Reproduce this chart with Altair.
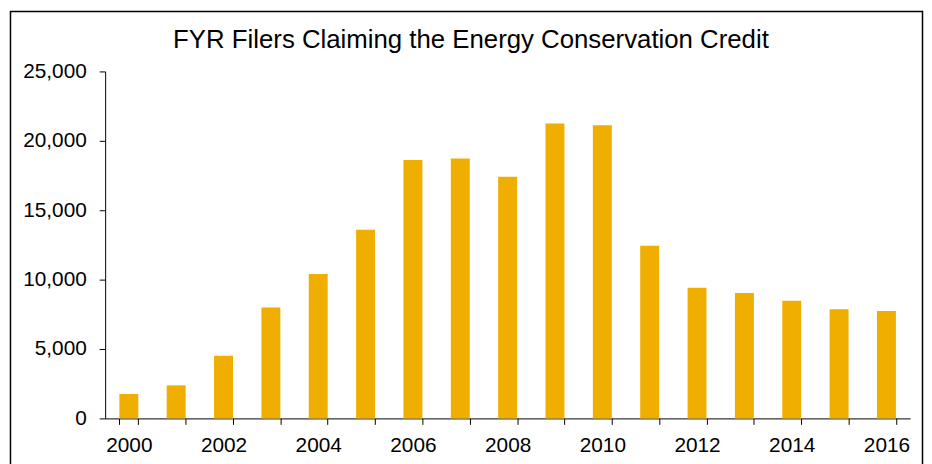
import altair as alt
import pandas as pd

years = list(range(2000, 2017))
filers = [1760, 2380, 4520, 8000, 10400, 13600, 18620, 18720, 17410,
          21240, 21120, 12440, 9420, 9040, 8470, 7870, 7730]
title_text = "FYR Filers Claiming the Energy Conservation Credit"
y_ticks = [0, 5000, 10000, 15000, 20000, 25000]

df = pd.DataFrame({"year": years, "filers": filers})
FONT = "Liberation Sans"

bars = alt.Chart(df).mark_bar(color="#F0AE00").encode(
    x=alt.X(
        "year:O",
        scale=alt.Scale(paddingInner=0.6, paddingOuter=0.3),
        axis=alt.Axis(
            title=None, labelAngle=0, tickBand="extent",
            labelExpr="datum.value % 2 == 0 ? datum.label : ''",
            labelOverlap=False, labelFont=FONT, labelFontSize=21,
            labelColor="black", tickColor="black", domainColor="black",
            tickSize=6, labelPadding=10, grid=False,
        ),
    ),
    y=alt.Y(
        "filers:Q",
        scale=alt.Scale(domain=[0, 25000], nice=False),
        axis=alt.Axis(
            title=None, values=y_ticks, format=",.0f", grid=False,
            labelFont=FONT, labelFontSize=21, labelColor="black",
            tickColor="black", domainColor="black", tickSize=6,
            labelPadding=13,
        ),
    ),
)

frame = alt.Chart(pd.DataFrame({"k": [0]})).mark_rect(
    fill="white", fillOpacity=0, stroke="black", strokeWidth=1.5
).encode(
    x=alt.value(-95.5), x2=alt.value(824.5), y=alt.value(-60.5), y2=alt.value(440)
)

chart = alt.layer(frame, bars).properties(
    width=812,
    height=350,
    autosize=alt.AutoSizeParams(type="none"),
    padding={"left": 98, "top": 62, "right": 14, "bottom": 44},
    title=alt.TitleParams(
        text=title_text, font=FONT, fontSize=26, fontWeight="normal",
        color="black", anchor="middle", frame="group", dx=-37,
        offset=-64, baseline="alphabetic",
    ),
).configure_view(stroke=None)

chart.save("out.html", embed_options={"renderer": "svg", "actions": False})
